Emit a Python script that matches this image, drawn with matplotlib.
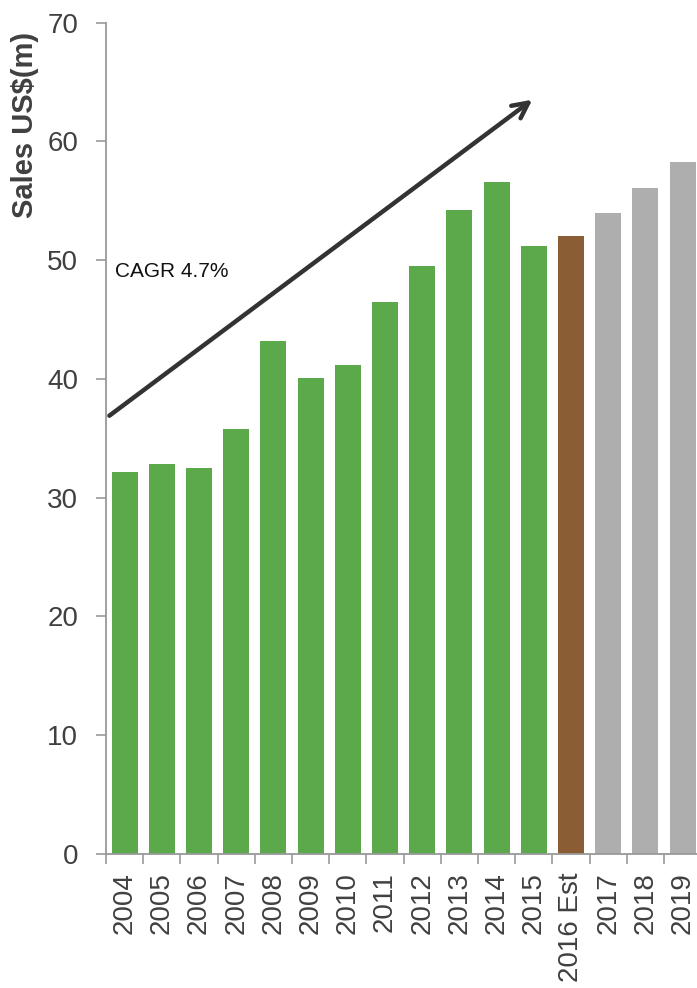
import matplotlib
matplotlib.use("Agg")
import matplotlib.pyplot as plt

plt.rcParams['font.family'] = ['Liberation Sans', 'DejaVu Sans']

# Data
years = ['2004', '2005', '2006', '2007', '2008', '2009', '2010', '2011',
         '2012', '2013', '2014', '2015', '2016 Est', '2017', '2018', '2019']
sales = [32.2, 32.8, 32.5, 35.8, 43.2, 40.1, 41.2, 46.5,
         49.5, 54.2, 56.6, 51.2, 52.0, 54.0, 56.1, 58.3]
kinds = ['actual'] * 12 + ['estimate'] + ['forecast'] * 3
kind_colors = {'actual': '#5CA94B', 'estimate': '#8A5D35', 'forecast': '#AEAEAE'}
yticks = [0, 10, 20, 30, 40, 50, 60, 70]
cagr_label = 'CAGR 4.7%'
arrow_start = (-0.41, 36.9)
arrow_end = (10.96, 63.5)

fig = plt.figure(figsize=(6.97, 9.88), dpi=100)
ax = fig.add_axes([0.1521, 0.1356, 0.854, 0.8416])

xs = list(range(len(years)))
ax.bar(xs, sales, width=0.7, color=[kind_colors[k] for k in kinds], zorder=2)

ax.set_xlim(-0.5, len(years) - 0.5)
ax.set_ylim(0, 70)

# tick marks between categories, labels centred under bars
ax.set_xticks([x - 0.5 for x in range(len(years) + 1)])
ax.set_xticklabels([])
ax.set_xticks(xs, minor=True)
ax.set_xticklabels(years, minor=True, rotation=90, fontsize=20, color='#404040')
ax.tick_params(axis='x', which='major', length=7, width=1.2, color='#999999')
ax.tick_params(axis='x', which='minor', length=0, pad=13)

ax.set_yticks(yticks)
ax.set_yticklabels([str(t) for t in yticks], fontsize=20, color='#404040')
ax.tick_params(axis='y', length=7, width=1.2, color='#999999', pad=13)

for s in ['top', 'right']:
    ax.spines[s].set_visible(False)
for s in ['left', 'bottom']:
    ax.spines[s].set_color('#999999')
    ax.spines[s].set_linewidth(1.3)

ax.annotate('', xy=arrow_end, xytext=arrow_start,
            arrowprops=dict(arrowstyle='->', color='#333333', lw=3.2,
                            mutation_scale=28, shrinkA=0, shrinkB=0),
            zorder=3)
ax.text(-0.26, 49.0, cagr_label, fontsize=15, color='#111111', va='center', ha='left')

fig.text(25 / 697, 1 - 125 / 988, 'Sales US$(m)', rotation=90, fontsize=21,
         fontweight='bold', color='#404040', ha='center', va='center')

fig.savefig('out.png', dpi=100)
